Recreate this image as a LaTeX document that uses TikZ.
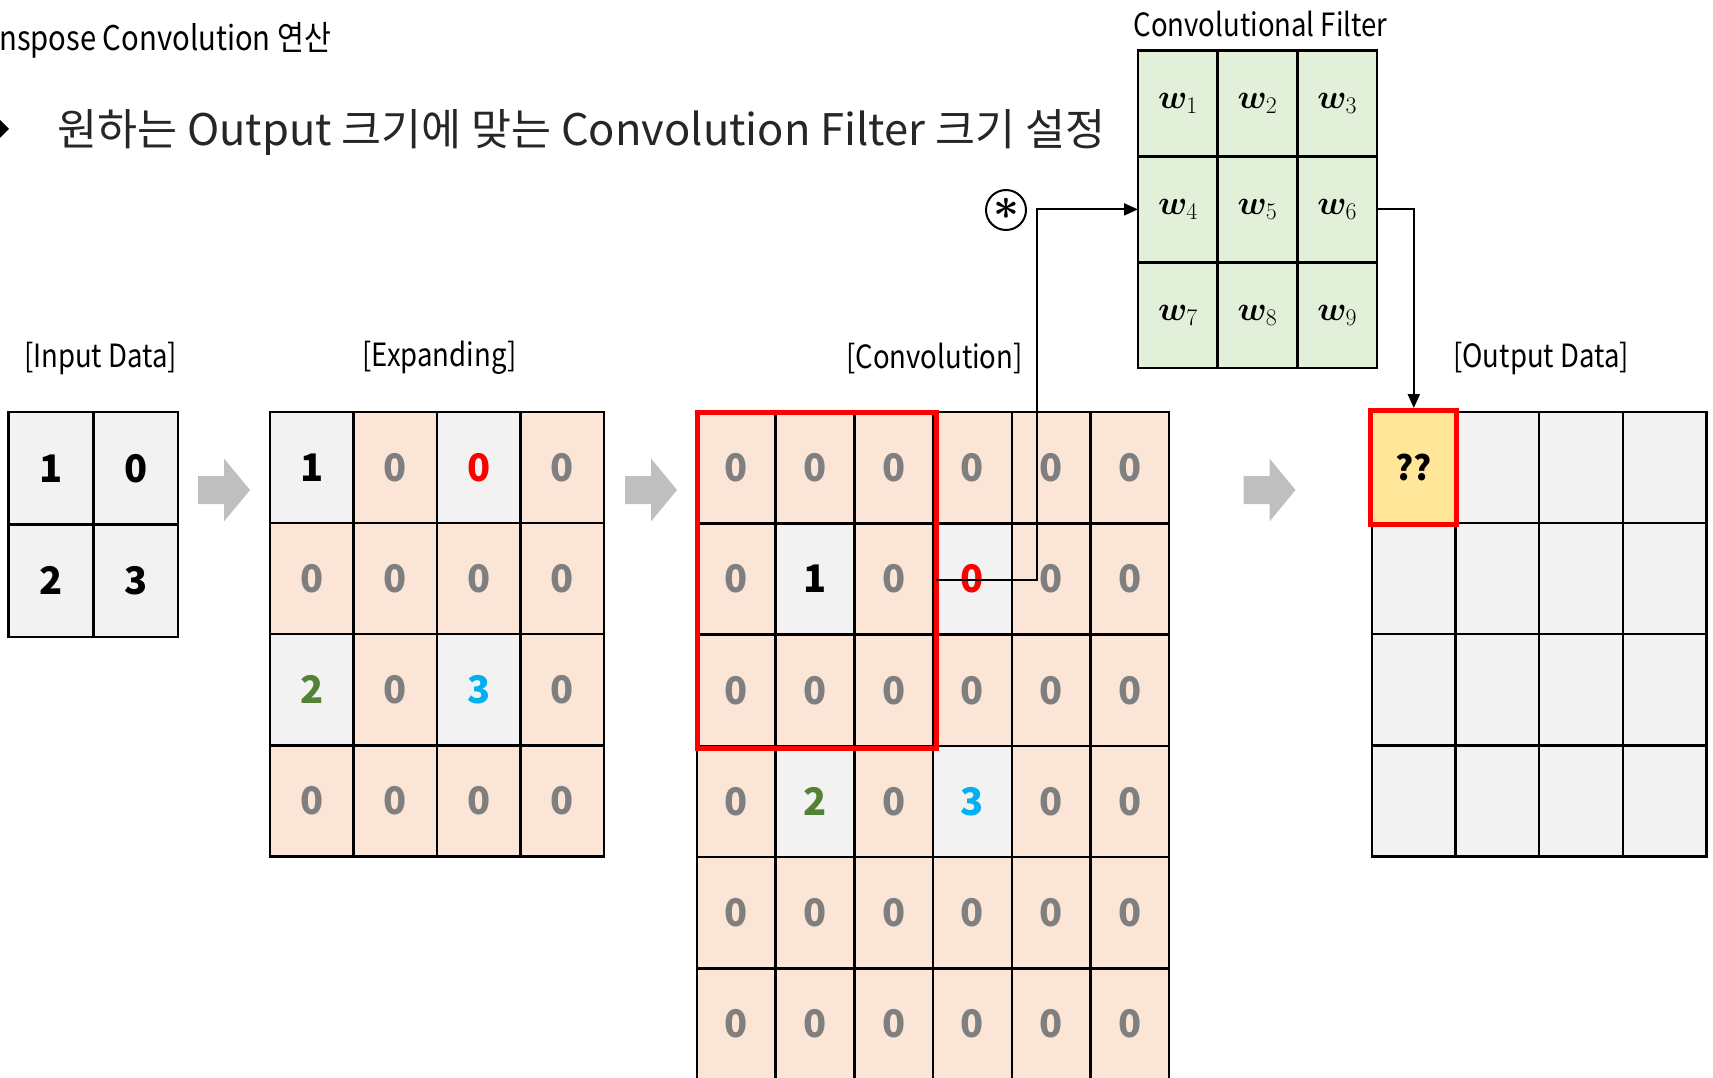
\RequirePackage{fix-cm}
\documentclass[tikz,border=0pt]{standalone}
\usepackage{amsmath,bm}
\usepackage{fontspec}
\setmainfont{Noto Sans CJK KR}
\newfontfamily\lblfont[FakeStretch=0.86]{Noto Sans CJK KR}
\usetikzlibrary{arrows.meta}
\definecolor{peach}{HTML}{FBE5D6}
\definecolor{lgray}{HTML}{F2F2F2}
\definecolor{lgreen}{HTML}{E2F0D9}
\definecolor{lyellow}{HTML}{FFE699}
\definecolor{zgray}{HTML}{7F7F7F}
\definecolor{dgreen}{HTML}{548235}
\definecolor{sky}{HTML}{00B0F0}
\definecolor{agray}{HTML}{BFBFBF}
\definecolor{titlegray}{HTML}{262626}
\tikzset{
  cellbase/.style={draw=black, line width=2.5pt, inner sep=0pt, outer sep=0pt,
    font=\fontsize{38}{38}\selectfont\bfseries},
  pz/.style={cellbase, fill=peach, text=zgray},
  g1/.style={cellbase, fill=lgray, text=black},
  gr/.style={cellbase, fill=lgray, text=red},
  gg/.style={cellbase, fill=lgray, text=dgreen},
  gb/.style={cellbase, fill=lgray, text=sky},
  oc/.style={cellbase, fill=lgray, text=black},
  oy/.style={cellbase, fill=lyellow, text=black, font=\fontsize{34}{34}\selectfont\bfseries},
  fc/.style={cellbase, fill=lgreen, text=black, font=\fontsize{34}{34}\selectfont},
  redbox/.style={draw=red, line width=5pt, inner sep=0pt, outer sep=0pt},
  lbl/.style={inner sep=0pt, font=\fontsize{32}{32}\lblfont},
  conn/.style={draw=black, line width=2pt, -{Triangle[length=14pt,width=12pt]}},
}
\newcommand\blockarr[2]{\fill[agray] ({#1-26},{#2-14}) -- ({#1},{#2-14}) -- ({#1},{#2-31.5}) -- ({#1+26},{#2}) -- ({#1},{#2+31.5}) -- ({#1},{#2+14}) -- ({#1-26},{#2+14}) -- cycle;}
\begin{document}
\begin{tikzpicture}[x=1pt,y=-1pt]
\useasboundingbox (0,0) rectangle (1713,1078);
\clip (0,0) rectangle (1713,1078);
% titles
\node[anchor=west, inner sep=0pt, font=\fontsize{34}{34}\lblfont] (title) at (-1,40) {nspose Convolution 연산};
\fill[black] (0,120) -- (9,129) -- (0,138) -- cycle;
\node[anchor=west, inner sep=0pt, font=\fontsize{43.5}{43.5}\selectfont, text=titlegray] (sub) at (57,132) {원하는 Output 크기에 맞는 Convolution Filter 크기 설정};
% labels
\node[lbl] (linput) at (100.5,358) {[Input Data]};
\node[lbl] (lexp) at (439.5,358) {[Expanding]};
\node[lbl] (lconv) at (934.5,358) {[Convolution]};
\node[lbl] (lout) at (1541,358) {[Output Data]};
\node[lbl] (lfilt) at (1260.5,24) {Convolutional Filter};
% input grid
\foreach \rr/\cc/\t in {1/1/1,1/2/0,2/1/2,2/2/3}
  \node[g1, minimum width=84.7, minimum height=112.5] (in-\rr-\cc) at ({8.7+84.7*(\cc-0.5)},{412+112.5*(\rr-0.5)}) {\t};
% expanding grid
\foreach \rr in {1,...,4}{\foreach \cc in {1,...,4}{
  \tikzset{cur/.style={pz}}\def\txt{0}
  \ifnum\rr\cc=11 \tikzset{cur/.style={g1}}\def\txt{1}\fi
  \ifnum\rr\cc=13 \tikzset{cur/.style={gr}}\fi
  \ifnum\rr\cc=31 \tikzset{cur/.style={gg}}\def\txt{2}\fi
  \ifnum\rr\cc=33 \tikzset{cur/.style={gb}}\def\txt{3}\fi
  \node[cur, minimum width=83.5, minimum height=111.1] (ex-\rr-\cc) at ({270+83.5*(\cc-0.5)},{412+111.1*(\rr-0.5)}) {\txt};
}}
% convolution grid
\foreach \rr in {1,...,6}{\foreach \cc in {1,...,6}{
  \tikzset{cur/.style={pz}}\def\txt{0}
  \ifnum\rr\cc=22 \tikzset{cur/.style={g1}}\def\txt{1}\fi
  \ifnum\rr\cc=24 \tikzset{cur/.style={gr}}\fi
  \ifnum\rr\cc=42 \tikzset{cur/.style={gg}}\def\txt{2}\fi
  \ifnum\rr\cc=44 \tikzset{cur/.style={gb}}\def\txt{3}\fi
  \node[cur, minimum width=78.7, minimum height=111.3] (cv-\rr-\cc) at ({697+78.7*(\cc-0.5)},{412+111.3*(\rr-0.5)}) {\txt};
}}
\node[redbox, minimum width=239, minimum height=336] (convwin) at (816.5,580) {};
% filter
\foreach \rr in {1,2,3}{\foreach \cc in {1,2,3}{
  \pgfmathtruncatemacro\n{(\rr-1)*3+\cc}
  \node[fc, minimum width=79.7, minimum height=105.8] (fi-\rr-\cc) at ({1138+79.7*(\cc-0.5)},{50.7+105.8*(\rr-0.5)}) {\raisebox{-5pt}{$\bm{w}_{\n}$}};
}}
% output grid
\foreach \rr in {1,...,4}{\foreach \cc in {1,...,4}{
  \tikzset{cur/.style={oc}}\def\txt{}
  \ifnum\rr\cc=11 \tikzset{cur/.style={oy}}\def\txt{??}\fi
  \node[cur, minimum width=83.6, minimum height=111.1] (out-\rr-\cc) at ({1372+83.6*(\cc-0.5)},{412+111.1*(\rr-0.5)}) {\txt};
}}
\node[redbox, minimum width=86, minimum height=114] (outwin) at (out-1-1.center) {};
% block arrows
\blockarr{224}{490}
\blockarr{651}{490}
\blockarr{1269.5}{490}
% convolution symbol
\node[draw=black, circle, line width=2pt, minimum size=40, inner sep=0pt] (ast) at (1006,210) {};
\node[inner sep=0pt, font=\fontsize{45}{45}\selectfont] (astsym) at ([yshift=1pt]ast.center) {$\bm{\ast}$};
% connectors
\coordinate (bendA) at (1037,580);
\draw[conn] (convwin.east) -- (bendA) |- (fi-2-1.west);
\draw[conn, shorten >=2.5pt] (fi-2-3.east) -| (outwin.north);
\end{tikzpicture}
\end{document}
